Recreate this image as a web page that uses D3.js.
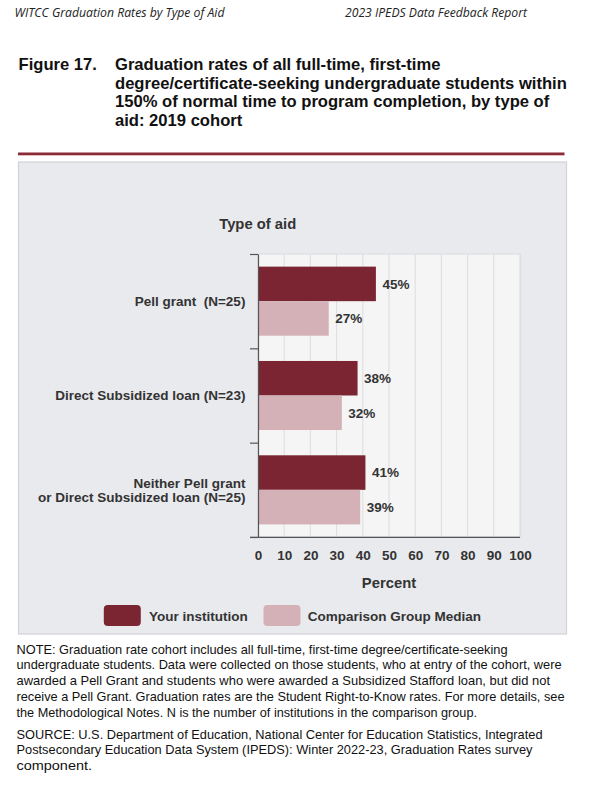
<!DOCTYPE html>
<html>
<head>
<meta charset="utf-8">
<script src="https://cdn.jsdelivr.net/npm/d3@7"></script>
<style>
  html, body { margin: 0; padding: 0; background: #ffffff; }
  svg { display: block; }
  text { font-family: "Liberation Sans", Arial, sans-serif; }
</style>
</head>
<body>
<script>
// ---------- data ----------
const categories = ["pell", "direct", "neither"];
const categoryLabels = [
  ["Pell grant  (N=25)"],
  ["Direct Subsidized loan (N=23)"],
  ["Neither Pell grant", "or Direct Subsidized loan (N=25)"]
];
const seriesNames = ["Your institution", "Comparison Group Median"];
const yourInstitution = [45, 38, 41];
const comparisonMedian = [27, 32, 39];
const xTicks = [0, 10, 20, 30, 40, 50, 60, 70, 80, 90, 100];
const headerLeft = "WITCC Graduation Rates by Type of Aid";
const headerRight = "2023 IPEDS Data Feedback Report";
const figureLabel = "Figure 17.";
const titleLines = [
  "Graduation rates of all full-time, first-time",
  "degree/certificate-seeking undergraduate students within",
  "150% of normal time to program completion, by type of",
  "aid: 2019 cohort"
];
const yAxisTitle = "Type of aid";
const xAxisTitle = "Percent";
const noteLines = [
  "NOTE: Graduation rate cohort includes all full-time, first-time degree/certificate-seeking",
  "undergraduate students. Data were collected on those students, who at entry of the cohort, were",
  "awarded a Pell Grant and students who were awarded a Subsidized Stafford loan, but did not",
  "receive a Pell Grant. Graduation rates are the Student Right-to-Know rates. For more details, see",
  "the Methodological Notes. N is the number of institutions in the comparison group."
];
const sourceLines = [
  "SOURCE: U.S. Department of Education, National Center for Education Statistics, Integrated",
  "Postsecondary Education Data System (IPEDS): Winter 2022-23, Graduation Rates survey",
  "component."
];

// ---------- layout ----------
const W = 600, H = 795;
const colors = { dark: "#7A2531", light: "#D4B1B7" };
const svg = d3.select("body").append("svg").attr("width", W).attr("height", H);

// header
svg.append("text").attr("x", 14.5).attr("y", 17)
  .attr("font-style", "italic")
  .attr("font-size", 12.5).attr("fill", "#222")
  .attr("textLength", 210).attr("lengthAdjust", "spacingAndGlyphs")
  .style("font-family", "'Open Sans', sans-serif")
  .text(headerLeft);
svg.append("text").attr("x", 345).attr("y", 17)
  .attr("font-style", "italic")
  .attr("font-size", 12.5).attr("fill", "#222")
  .attr("textLength", 182).attr("lengthAdjust", "spacingAndGlyphs")
  .style("font-family", "'Open Sans', sans-serif")
  .text(headerRight);

// title
svg.append("text").attr("x", 18.5).attr("y", 70)
  .attr("font-weight", "bold").attr("font-size", 16.6).attr("fill", "#111")
  .text(figureLabel);
svg.selectAll("text.title").data(titleLines).enter().append("text")
  .attr("class", "title")
  .attr("x", 115).attr("y", (d, i) => 70 + i * 18.5)
  .attr("font-weight", "bold").attr("font-size", 16.6).attr("fill", "#111")
  .text(d => d);

// red rule
svg.append("rect").attr("x", 18).attr("y", 152.5).attr("width", 546.5).attr("height", 2.8)
  .attr("fill", "#8C2A36");

// panel
svg.append("rect").attr("x", 18.5).attr("y", 162).attr("width", 548).attr("height", 472)
  .attr("fill", "#E9EAEE").attr("stroke", "#D2D3D7").attr("stroke-width", 1.2);

// scales
const x = d3.scaleLinear().domain([0, 100]).range([258, 520]);
const y = d3.scaleBand().domain(categories).range([254, 537]).padding(0);
const yInner = d3.scaleBand().domain(seriesNames).range([0, y.bandwidth()])
  .paddingInner(0).paddingOuter(0.366);

// plot area
svg.append("rect").attr("x", x(0)).attr("y", 254).attr("width", x(100) - x(0) + 0.7).attr("height", 537 - 254)
  .attr("fill", "#F5F5F6").attr("stroke", "#DCDCE0").attr("stroke-width", 1);

// gridlines
svg.append("g").selectAll("line").data(xTicks.slice(1)).enter().append("line")
  .attr("x1", d => x(d)).attr("x2", d => x(d))
  .attr("y1", 254).attr("y2", 537)
  .attr("stroke", "#E0E0E4").attr("stroke-width", 1.2);

// bars
const seriesData = [yourInstitution, comparisonMedian];
const seriesColors = [colors.dark, colors.light];
seriesNames.forEach((s, si) => {
  const g = svg.append("g");
  g.selectAll("rect").data(categories).enter().append("rect")
    .attr("x", x(0))
    .attr("y", c => y(c) + yInner(s))
    .attr("width", (c, i) => x(seriesData[si][i]) - x(0))
    .attr("height", yInner.bandwidth())
    .attr("fill", seriesColors[si]);
  g.selectAll("text").data(categories).enter().append("text")
    .attr("x", (c, i) => x(seriesData[si][i]) + 6.5)
    .attr("y", c => y(c) + yInner(s) + yInner.bandwidth() / 2 + 4.8)
    .attr("font-weight", "bold").attr("font-size", 13.5).attr("fill", "#333")
    .text((c, i) => seriesData[si][i] + "%");
});

// y axis (band boundaries)
const yBound = d3.scaleLinear().domain([0, categories.length]).range([254, 537]);
const yAxisG = svg.append("g").attr("transform", `translate(${x(0)},0)`)
  .call(d3.axisLeft(yBound).tickValues(d3.range(categories.length + 1)).tickSize(8).tickSizeOuter(0).tickFormat(""));
yAxisG.select(".domain").attr("stroke", "#555").attr("stroke-width", 1.2);
yAxisG.selectAll(".tick line").attr("stroke", "#555").attr("stroke-width", 1.2);

// x axis
const xAxisG = svg.append("g").attr("transform", "translate(0,537.3)")
  .call(d3.axisBottom(x).tickValues(xTicks).tickSize(0).tickPadding(13.5).tickFormat(d3.format("d")));
xAxisG.select(".domain").remove();
xAxisG.append("line").attr("x1", 250).attr("x2", x(100)).attr("y1", 0).attr("y2", 0)
  .attr("stroke", "#555").attr("stroke-width", 1.2);
xAxisG.selectAll(".tick text")
  .attr("font-family", "'Liberation Sans', Arial, sans-serif")
  .attr("font-weight", "bold").attr("font-size", 13.5).attr("fill", "#333");

// category labels
categories.forEach((c, i) => {
  const lines = categoryLabels[i];
  const cy = y(c) + y.bandwidth() / 2;
  lines.forEach((ln, li) => {
    svg.append("text")
      .attr("x", 245.4)
      .attr("y", cy + (li - (lines.length - 1) / 2) * 14 + 4.8)
      .attr("text-anchor", "end")
      .attr("font-weight", "bold").attr("font-size", 13.5).attr("fill", "#333")
      .style("white-space", "pre")
      .text(ln);
  });
});

// axis titles
svg.append("text").attr("x", 257.7).attr("y", 228.5).attr("text-anchor", "middle")
  .attr("font-weight", "bold").attr("font-size", 14.8).attr("fill", "#333").text(yAxisTitle);
svg.append("text").attr("x", (x(0) + x(100)) / 2).attr("y", 587.5).attr("text-anchor", "middle")
  .attr("font-weight", "bold").attr("font-size", 14.8).attr("fill", "#333").text(xAxisTitle);

// legend
const legendItems = [
  { name: seriesNames[0], color: colors.dark, sx: 103.8, tx: 149 },
  { name: seriesNames[1], color: colors.light, sx: 263.5, tx: 307.8 }
];
legendItems.forEach(it => {
  svg.append("rect").attr("x", it.sx).attr("y", 605).attr("width", 37).attr("height", 21)
    .attr("rx", 4).attr("fill", it.color);
  svg.append("text").attr("x", it.tx).attr("y", 620.5)
    .attr("font-weight", "bold").attr("font-size", 13.5).attr("fill", "#333").text(it.name);
});

// notes
const noteWidths = [491, 545, 533.5, 548, 460.5];
noteLines.forEach((ln, i) => {
  svg.append("text").attr("x", 16.5).attr("y", 653.5 + i * 15.8)
    .attr("font-size", 13).attr("fill", "#111")
    .attr("textLength", noteWidths[i]).attr("lengthAdjust", "spacingAndGlyphs")
    .text(ln);
});
const sourceWidths = [526, 516, 75.5];
sourceLines.forEach((ln, i) => {
  svg.append("text").attr("x", 16.5).attr("y", 738.5 + i * 15.8)
    .attr("font-size", 13).attr("fill", "#111")
    .attr("textLength", sourceWidths[i]).attr("lengthAdjust", "spacingAndGlyphs")
    .text(ln);
});
</script>
</body>
</html>
